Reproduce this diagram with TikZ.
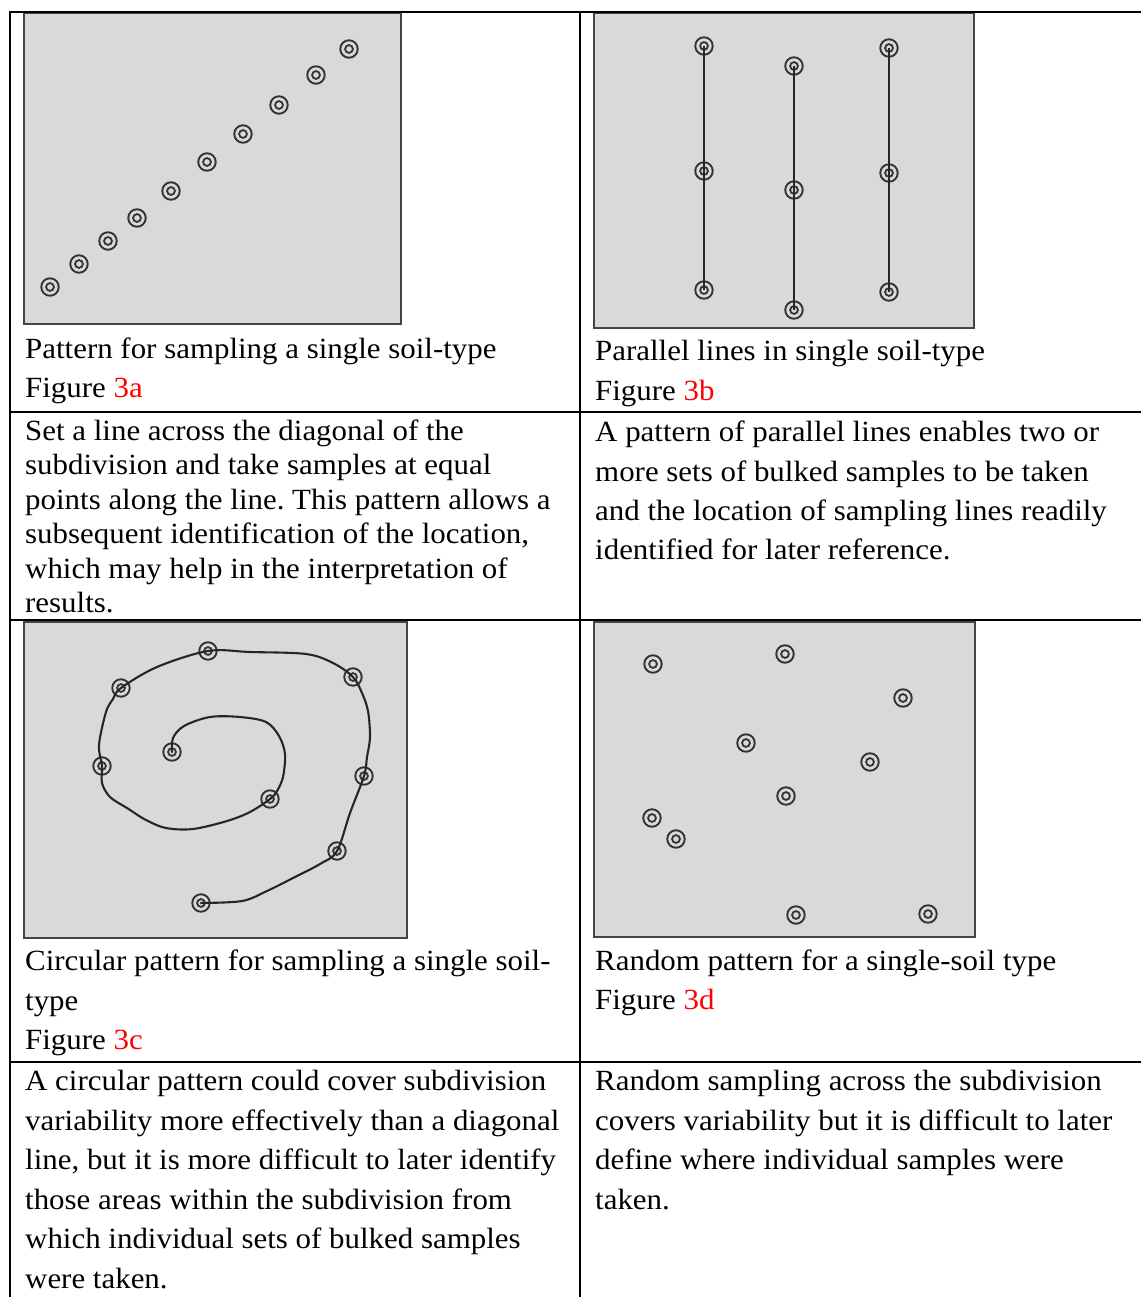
\documentclass[tikz,border=0pt]{standalone}
\usepackage{fontspec}
\setmainfont{Liberation Serif}[FakeStretch=1.055]
\definecolor{mk}{HTML}{333333}
\definecolor{boxfill}{HTML}{D9D9D9}
\definecolor{boxline}{HTML}{444444}
\definecolor{figred}{HTML}{FF0000}
\newcommand{\tfs}{\fontsize{29.3}{35}\selectfont}
\newcommand{\fr}[1]{\textcolor{figred}{#1}}
\frenchspacing
\begin{document}
\begin{tikzpicture}[x=1pt,y=-1pt,
  sample/.style={circle, draw=mk, line width=1.9pt, minimum size=17.5pt, inner sep=0pt,
    path picture={\draw[mk, line width=1.8pt] (path picture bounding box.center) circle (3.9pt);}},
  field/.style={fill=boxfill, draw=boxline, line width=1.8pt},
  rule/.style={black, line width=2.2pt},
  vrule/.style={black, line width=1.2pt},
  txt/.style={anchor=base west, inner sep=0pt, font=\tfs, text=black},
  track/.style={black!85, line width=2.1pt, line join=round, line cap=round},
  pline/.style={black!85, line width=2pt}
]
\useasboundingbox (0,0) rectangle (1141,1297);
\fill[white] (0,0) rectangle (1141,1297);

% ---------- fields ----------
\draw[field] (24,13) rectangle (401,324);
\draw[field] (594,13) rectangle (974,328);
\draw[field] (24,622) rectangle (407,938);
\draw[field] (594,622) rectangle (975,937);

% ---------- table rules ----------
\draw[rule] (9,12) -- (1141,12);
\draw[rule] (9,412) -- (1141,412);
\draw[rule] (9,620) -- (1141,620);
\draw[rule] (9,1062) -- (1141,1062);
\draw[vrule] (10,11) -- (10,1297);
\draw[vrule] (580,11) -- (580,1297);

% ---------- 3a diagonal ----------
\foreach \n/\px/\py in {1/50/287, 2/79/264, 3/108/241, 4/137/218, 5/171/191,
                       6/207/162, 7/243/134, 8/279/105, 9/316/75, 10/349/49}
  \node[sample] (a\n) at (\px,\py) {};

% ---------- 3b parallel lines ----------
\node[sample] (b11) at (704,46) {};
\node[sample] (b12) at (704,171) {};
\node[sample] (b13) at (704,290) {};
\node[sample] (b21) at (794,66) {};
\node[sample] (b22) at (794,190) {};
\node[sample] (b23) at (794,310) {};
\node[sample] (b31) at (889,48) {};
\node[sample] (b32) at (889,173) {};
\node[sample] (b33) at (889,292) {};
\draw[pline] (b11.center) -- (b12.center) -- (b13.center);
\draw[pline] (b21.center) -- (b22.center) -- (b23.center);
\draw[pline] (b31.center) -- (b32.center) -- (b33.center);

% ---------- 3c spiral ----------
\node[sample] (c1) at (172,752) {};
\node[sample] (c2) at (270,799) {};
\node[sample] (c3) at (102,766) {};
\node[sample] (c4) at (121,688) {};
\node[sample] (c5) at (208,651) {};
\node[sample] (c6) at (353,677) {};
\node[sample] (c7) at (364,776) {};
\node[sample] (c8) at (337,851) {};
\node[sample] (c9) at (201,903) {};
\draw[track] plot[smooth, tension=0.55] coordinates {
  (c1.center) (173,738) (184,726) (210,717) (240,717) (266,722) (279,736)
  (285,754) (283,777) (277,791) (c2.center) (250,812) (227,821) (193,829)
  (166,828) (146,820) (127,808) (110,797) (102,783) (c3.center) (99,745)
  (106,712) (113,699) (c4.center) (157,667) (c5.center) (250,652) (306,654)
  (333,663) (c6.center) (362,693) (368,711) (370,737) (367,757) (c7.center)
  (350,813) (c8.center) (320,864) (293,878) (267,891) (242,901) (c9.center)};

% ---------- 3d random ----------
\foreach \n/\px/\py in {1/653/664, 2/785/654, 3/903/698, 4/746/743, 5/870/762,
                       6/786/796, 7/652/818, 8/676/839, 9/796/915, 10/928/914}
  \node[sample] (d\n) at (\px,\py) {};

% ---------- captions ----------
\node[txt] (capa1) at (25,358) {Pattern for sampling a single soil-type};
\node[txt] (capa2) at (25,397) {Figure \fr{3a}};
\node[txt] (capb1) at (595,360) {Parallel lines in single soil-type};
\node[txt] (capb2) at (595,400) {Figure \fr{3b}};
\node[txt] (capc1) at (25,970) {Circular pattern for sampling a single soil-};
\node[txt] (capc2) at (25,1010) {type};
\node[txt] (capc3) at (25,1049) {Figure \fr{3c}};
\node[txt] (capd1) at (595,970) {Random pattern for a single-soil type};
\node[txt] (capd2) at (595,1009) {Figure \fr{3d}};

% ---------- descriptions row 2 ----------
\node[txt] (da1) at (25,440) {Set a line across the diagonal of the};
\node[txt] (da2) at (25,474) {subdivision and take samples at equal};
\node[txt] (da3) at (25,509) {points along the line. This pattern allows a};
\node[txt] (da4) at (25,543) {subsequent identification of the location,};
\node[txt] (da5) at (25,578) {which may help in the interpretation of};
\node[txt] (da6) at (25,612) {results.};
\node[txt] (db1) at (595,441) {A pattern of parallel lines enables two or};
\node[txt] (db2) at (595,481) {more sets of bulked samples to be taken};
\node[txt] (db3) at (595,520) {and the location of sampling lines readily};
\node[txt] (db4) at (595,559) {identified for later reference.};

% ---------- descriptions row 4 ----------
\node[txt] (dc1) at (25,1090) {A circular pattern could cover subdivision};
\node[txt] (dc2) at (25,1130) {variability more effectively than a diagonal};
\node[txt] (dc3) at (25,1169) {line, but it is more difficult to later identify};
\node[txt] (dc4) at (25,1209) {those areas within the subdivision from};
\node[txt] (dc5) at (25,1248) {which individual sets of bulked samples};
\node[txt] (dc6) at (25,1288) {were taken.};
\node[txt] (dd1) at (595,1090) {Random sampling across the subdivision};
\node[txt] (dd2) at (595,1130) {covers variability but it is difficult to later};
\node[txt] (dd3) at (595,1169) {define where individual samples were};
\node[txt] (dd4) at (595,1209) {taken.};
\end{tikzpicture}
\end{document}
